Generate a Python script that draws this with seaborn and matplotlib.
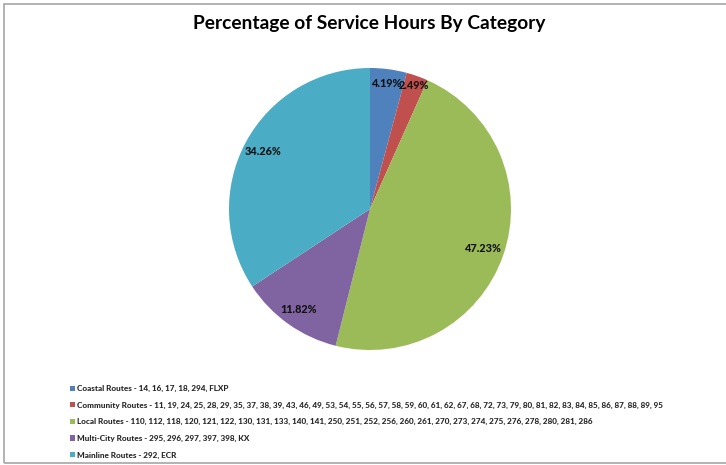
import numpy as np
import matplotlib
matplotlib.use("Agg")
import matplotlib.pyplot as plt
import seaborn as sns
from matplotlib.patches import Rectangle

categories = [
    "Coastal Routes - 14, 16, 17, 18, 294, FLXP",
    "Community Routes - 11, 19, 24, 25, 28, 29, 35, 37, 38, 39, 43, 46, 49, 53, 54, 55, 56, 57, 58, 59, 60, 61, 62, 67, 68, 72, 73, 79, 80, 81, 82, 83, 84, 85, 86, 87, 88, 89, 95",
    "Local Routes - 110, 112, 118, 120, 121, 122, 130, 131, 133, 140, 141, 250, 251, 252, 256, 260, 261, 270, 273, 274, 275, 276, 278, 280, 281, 286",
    "Multi-City Routes - 295, 296, 297, 397, 398, KX",
    "Mainline Routes - 292, ECR",
]
values = [4.19, 2.49, 47.23, 11.82, 34.26]
value_labels = ["4.19%", "2.49%", "47.23%", "11.82%", "34.26%"]
colors = ["#4F81BD", "#C0504D", "#9BBB59", "#8064A2", "#4BACC6"]
title = "Percentage of Service Hours By Category"

sns.set_theme(style="white")
plt.rcParams['font.family'] = ['Lato', 'DejaVu Sans']

W, H = 726, 465
fig = plt.figure(figsize=(W / 100, H / 100), dpi=100)
fig.patch.set_facecolor("white")

# frame around the chart
fig.add_artist(Rectangle((4 / W, 2 / H), 1.2, (461 - 2) / H, transform=fig.transFigure,
                         fill=False, edgecolor="#A6A6A6", linewidth=1.2))

cx, cy, r = 370, 209, 141
ax = fig.add_axes([(cx - r) / W, (H - cy - r) / H, 2 * r / W, 2 * r / H])
wedges, _ = ax.pie(values, colors=colors, startangle=90, counterclock=False,
                   wedgeprops=dict(linewidth=0))
ax.set_xlim(-1, 1)
ax.set_ylim(-1, 1)
ax.set_aspect("equal")
ax.axis("off")

dists = [0.90, 0.93, 0.85, 0.87, 0.86]
for w, lab, d in zip(wedges, value_labels, dists):
    ang = np.deg2rad((w.theta1 + w.theta2) / 2)
    ax.text(d * np.cos(ang), d * np.sin(ang), lab, ha="center", va="center",
            fontsize=7.8, fontweight="black", color="#111111")

fig.text(369 / W, 1 - 23 / H, title, ha="center", va="center",
         fontsize=13.8, fontweight="bold", color="black")

leg = fig.legend(wedges, categories, loc="upper left",
                 bbox_to_anchor=(70 / W, 1 - 385 / H), frameon=False,
                 handlelength=0.62, handleheight=0.62, handletextpad=0.3,
                 labelspacing=1.17, prop=dict(size=5.85, weight="black"),
                 borderaxespad=0, borderpad=0)
for t in leg.get_texts():
    t.set_color("#262626")

fig.savefig("out.png", dpi=100)
